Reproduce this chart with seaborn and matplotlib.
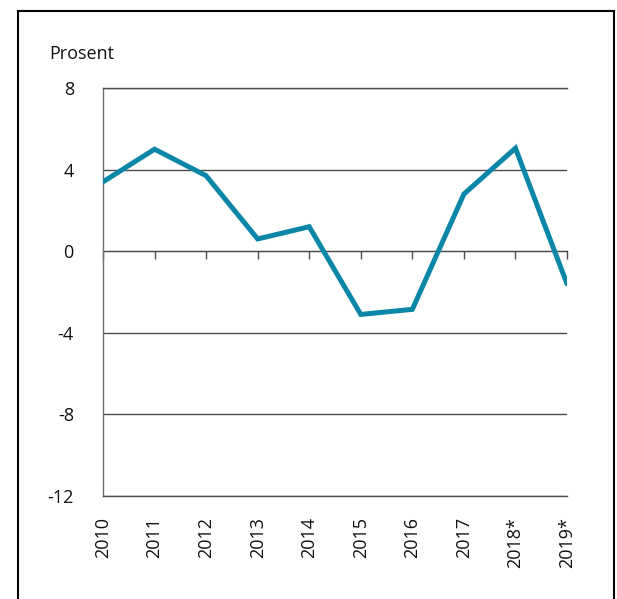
import matplotlib
matplotlib.use("Agg")
import matplotlib.pyplot as plt
import seaborn as sns
import pandas as pd
from matplotlib.patches import Rectangle

# data
years = [2010, 2011, 2012, 2013, 2014, 2015, 2016, 2017, 2018, 2019]
year_labels = ["2010", "2011", "2012", "2013", "2014", "2015", "2016", "2017", "2018*", "2019*"]
values = [3.4, 5.0, 3.7, 0.6, 1.2, -3.1, -2.85, 2.8, 5.05, -1.6]
y_ticks = [-12, -8, -4, 0, 4, 8]

LINE_COLOR = "#0a87a8"
GRID_COLOR = "#4d4d4d"
TEXT_COLOR = "#111111"
FONT_SIZE = 13

sns.set_style("white")
plt.rcParams["font.family"] = ["Open Sans", "DejaVu Sans"]
plt.rcParams["axes.unicode_minus"] = False

df = pd.DataFrame({"year": years, "value": values})

fig = plt.figure(figsize=(6.17, 5.99), dpi=100)
ax = fig.add_axes([103 / 617, 1 - 496 / 599, (567 - 103) / 617, (496 - 88) / 599])

sns.lineplot(data=df, x="year", y="value", color=LINE_COLOR, linewidth=3.6,
             solid_joinstyle="miter", solid_capstyle="round", ax=ax, zorder=3)

ax.set_xlim(years[0], years[-1])
ax.set_ylim(y_ticks[0], y_ticks[-1])
ax.set_yticks(y_ticks)
ax.set_yticklabels([str(t) for t in y_ticks])
ax.set_xticks(years)
ax.set_xticklabels(year_labels, rotation=90, va="top", ha="center")
ax.set_xlabel("")
ax.set_ylabel("")

ax.yaxis.grid(True, color=GRID_COLOR, linewidth=1.0)
ax.xaxis.grid(False)
for side in ["top", "bottom"]:
    ax.spines[side].set_visible(True)
    ax.spines[side].set_color(GRID_COLOR)
    ax.spines[side].set_linewidth(1.0)
ax.spines["right"].set_visible(False)
ax.spines["left"].set_color("#6e6e6e")
ax.spines["left"].set_linewidth(1.0)

ax.tick_params(axis="y", length=0, pad=21, labelsize=FONT_SIZE, labelcolor=TEXT_COLOR)
ax.tick_params(axis="x", length=0, pad=15, labelsize=FONT_SIZE, labelcolor=TEXT_COLOR)

# tick marks sit on the zero line, pointing upward
zero_pos = (0 - y_ticks[0]) / (y_ticks[-1] - y_ticks[0])
sec = ax.secondary_xaxis(zero_pos)
sec.set_xticks(years)
sec.set_xticklabels([])
sec.tick_params(axis="x", direction="in", length=5.5, width=1.0, color=GRID_COLOR)
sec.spines["bottom"].set_visible(False)

fig.text(49 / 617, 1 - 54 / 599, "Prosent", ha="left", va="center",
         fontsize=FONT_SIZE, color=TEXT_COLOR)

# frame round the figure (open at the bottom)
fig.patches.append(Rectangle((18 / 617, -0.05), (614 - 18) / 617, 1.05 - 11 / 599,
                             transform=fig.transFigure, fill=False,
                             edgecolor="black", linewidth=1.5))

fig.savefig("out.png", dpi=100, facecolor="white")
